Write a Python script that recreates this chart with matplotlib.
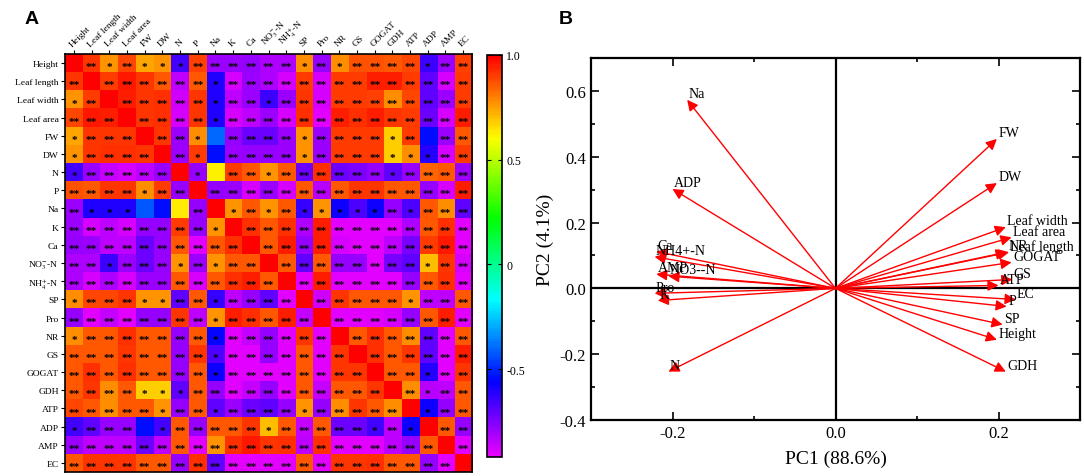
import numpy as np
import matplotlib
matplotlib.use('Agg')
import matplotlib.pyplot as plt
import matplotlib.colors as mcolors
from matplotlib.ticker import MultipleLocator

plt.rcParams['font.family'] = ['Liberation Serif', 'DejaVu Serif']
plt.rcParams['mathtext.fontset'] = 'stix'

# ---- panel A: correlation matrix ----
heat_labels = ['Height', 'Leaf length', 'Leaf width', 'Leaf area', 'FW', 'DW', 'N', 'P',
               'Na', 'K', 'Ca', r'NO$_3^{-}$-N', r'NH$_4^{+}$-N', 'SP', 'Pro', 'NR', 'GS',
               'GOGAT', 'GDH', 'ATP', 'ADP', 'AMP', 'EC']

corr = np.array([
    [1.00, 0.91, 0.77, 0.88, 0.74, 0.76, -0.66, 0.89, -0.80, -0.80, -0.78, -0.82, -0.82, 0.78, -0.78, 0.78, 0.87, 0.87, 0.85, 0.88, -0.65, -0.80, 0.89],
    [0.91, 1.00, 0.90, 0.96, 0.91, 0.85, -0.85, 0.86, -0.60, -0.88, -0.80, -0.82, -0.88, 0.90, -0.88, 0.90, 0.90, 0.94, 0.94, 0.90, -0.70, -0.88, 0.90],
    [0.77, 0.90, 1.00, 0.95, 0.91, 0.92, -0.87, 0.91, -0.60, -0.85, -0.80, -0.65, -0.80, 0.91, -0.88, 0.90, 0.90, 0.89, 0.78, 0.88, -0.70, -0.80, 0.90],
    [0.88, 0.96, 0.95, 1.00, 0.91, 0.92, -0.88, 0.91, -0.60, -0.88, -0.85, -0.80, -0.88, 0.92, -0.90, 0.95, 0.92, 0.95, 0.91, 0.90, -0.72, -0.88, 0.95],
    [0.74, 0.91, 0.91, 0.91, 1.00, 0.91, -0.80, 0.78, -0.40, -0.78, -0.72, -0.72, -0.80, 0.77, -0.80, 0.90, 0.90, 0.90, 0.68, 0.90, -0.54, -0.80, 0.86],
    [0.76, 0.91, 0.92, 0.92, 0.91, 1.00, -0.80, 0.90, -0.54, -0.80, -0.78, -0.78, -0.80, 0.77, -0.80, 0.90, 0.90, 0.90, 0.68, 0.78, -0.62, -0.88, 0.90],
    [-0.66, -0.80, -0.86, -0.88, -0.85, -0.80, 1.00, -0.78, 0.62, 0.90, 0.85, 0.76, 0.86, -0.72, 0.92, -0.72, -0.75, -0.78, -0.70, -0.78, 0.84, 0.85, -0.80],
    [0.87, 0.86, 0.91, 0.91, 0.78, 0.90, -0.78, 1.00, -0.78, -0.80, -0.88, -0.80, -0.88, 0.85, -0.84, 0.86, 0.91, 0.91, 0.85, 0.85, -0.78, -0.88, 0.94],
    [-0.80, -0.60, -0.60, -0.60, -0.42, -0.54, 0.63, -0.78, 1.00, 0.77, 0.85, 0.76, 0.85, -0.64, 0.77, -0.58, -0.68, -0.58, -0.78, -0.68, 0.86, 0.78, -0.70],
    [-0.80, -0.88, -0.85, -0.88, -0.78, -0.78, 0.90, -0.78, 0.77, 1.00, 0.92, 0.86, 0.92, -0.82, 0.95, -0.90, -0.90, -0.90, -0.90, -0.82, 0.86, 0.92, -0.90],
    [-0.78, -0.80, -0.85, -0.85, -0.72, -0.78, 0.86, -0.90, 0.86, 0.92, 1.00, 0.86, 0.95, -0.78, 0.95, -0.88, -0.90, -0.90, -0.85, -0.74, 0.90, 0.96, -0.90],
    [-0.82, -0.82, -0.65, -0.80, -0.72, -0.78, 0.76, -0.80, 0.76, 0.86, 0.86, 1.00, 0.86, -0.70, 0.86, -0.78, -0.78, -0.90, -0.74, -0.70, 0.70, 0.91, -0.88],
    [-0.82, -0.88, -0.82, -0.88, -0.80, -0.80, 0.86, -0.88, 0.86, 0.92, 0.95, 0.86, 1.00, -0.90, 0.94, -0.90, -0.90, -0.90, -0.90, -0.78, 0.86, 0.92, -0.90],
    [0.78, 0.88, 0.88, 0.91, 0.77, 0.77, -0.70, 0.86, -0.64, -0.85, -0.78, -0.70, -0.90, 1.00, -0.87, 0.91, 0.86, 0.86, 0.86, 0.77, -0.85, -0.85, 0.86],
    [-0.78, -0.90, -0.86, -0.90, -0.78, -0.78, 0.91, -0.85, 0.77, 0.95, 0.92, 0.86, 0.95, -0.86, 1.00, -0.90, -0.90, -0.90, -0.88, -0.78, 0.86, 0.95, -0.90],
    [0.78, 0.86, 0.86, 0.92, 0.86, 0.86, -0.78, 0.86, -0.56, -0.90, -0.86, -0.78, -0.90, 0.91, -0.90, 1.00, 0.86, 0.92, 0.86, 0.78, -0.70, -0.90, 0.86],
    [0.86, 0.86, 0.86, 0.91, 0.86, 0.86, -0.78, 0.91, -0.68, -0.90, -0.90, -0.78, -0.90, 0.86, -0.90, 0.91, 1.00, 0.92, 0.86, 0.91, -0.70, -0.90, 0.95],
    [0.86, 0.92, 0.86, 0.92, 0.86, 0.86, -0.78, 0.86, -0.58, -0.90, -0.90, -0.90, -0.90, 0.86, -0.90, 0.91, 0.91, 1.00, 0.86, 0.86, -0.62, -0.90, 0.91],
    [0.86, 0.91, 0.78, 0.86, 0.68, 0.68, -0.70, 0.86, -0.78, -0.90, -0.86, -0.78, -0.90, 0.86, -0.86, 0.86, 0.86, 0.91, 1.00, 0.78, -0.84, -0.85, 0.86],
    [0.88, 0.86, 0.78, 0.86, 0.86, 0.76, -0.78, 0.86, -0.70, -0.80, -0.72, -0.70, -0.78, 0.76, -0.78, 0.78, 0.91, 0.86, 0.78, 1.00, -0.58, -0.78, 0.86],
    [-0.66, -0.70, -0.78, -0.78, -0.54, -0.66, 0.85, -0.78, 0.85, 0.86, 0.91, 0.70, 0.86, -0.86, 0.86, -0.72, -0.72, -0.66, -0.85, -0.58, 1.00, 0.86, -0.78],
    [-0.80, -0.85, -0.85, -0.85, -0.72, -0.85, 0.86, -0.90, 0.77, 0.92, 0.96, 0.91, 0.92, -0.85, 0.92, -0.90, -0.90, -0.90, -0.85, -0.78, 0.86, 1.00, -0.90],
    [0.86, 0.91, 0.91, 0.91, 0.86, 0.86, -0.78, 0.92, -0.70, -0.90, -0.90, -0.90, -0.90, 0.86, -0.90, 0.91, 0.91, 0.92, 0.86, 0.86, -0.78, -0.90, 1.00],
])

# number of asterisks per cell (0 = none)
stars = [
    "02121112222221212222122",
    "20222222122222222222222",
    "12022222122122222222222",
    "22202222122222222222222",
    "12220221022221222212022",
    "12222021022221222211122",
    "12222201022122222212222",
    "22221220222222222222222",
    "21110002012121111121222",
    "22222222102222222222222",
    "22222222220222222222222",
    "22122212122022222222122",
    "22222222222202222222222",
    "12221122122220222221222",
    "22222222122222022222222",
    "12222222122222202222222",
    "22222222122222220222222",
    "22222222122222222022122",
    "22221112222222222202122",
    "22222122122221222220122",
    "12220122222122222121022",
    "22222222222222222222202",
    "22222222222222222222220",
]

# ---- panel B: PCA loadings ----
pca_labels = ['Na', 'ADP', 'Ca', 'NH4+-N', 'AMP', 'NO3--N', 'Pro', 'K', 'N',
              'FW', 'DW', 'Leaf width', 'Leaf area', 'NR', 'Leaf length', 'GOGAT',
              'GS', 'ATP', 'EC', 'P', 'SP', 'Height', 'GDH']
pc1 = [-0.182, -0.200, -0.220, -0.222, -0.220, -0.205, -0.222, -0.218, -0.205,
       0.198, 0.198, 0.209, 0.216, 0.210, 0.213, 0.216,
       0.217, 0.200, 0.221, 0.210, 0.205, 0.198, 0.209]
pc2 = [0.573, 0.302, 0.112, 0.096, 0.043, 0.037, -0.015, -0.037, -0.253,
       0.454, 0.320, 0.186, 0.155, 0.110, 0.110, 0.079,
       0.027, 0.009, -0.034, -0.055, -0.110, -0.156, -0.253]

W, H = 1084, 477
fig = plt.figure(figsize=(W / 100, H / 100), dpi=100)

def px_axes(x0, y0, x1, y1):
    return fig.add_axes([x0 / W, 1 - y1 / H, (x1 - x0) / W, (y1 - y0) / H])

# colormap: magenta -> blue -> cyan -> green -> yellow -> red
cmap = mcolors.ListedColormap(plt.get_cmap('hsv')(np.linspace(5 / 6, 0, 256)))
vmin, vmax = -0.92, 1.0

ax1 = px_axes(65, 55, 472, 473)
im = ax1.imshow(corr, cmap=cmap, vmin=vmin, vmax=vmax, aspect='auto', interpolation='nearest')
n = len(heat_labels)
for i in range(n):
    for j in range(n):
        k = int(stars[i][j])
        if k:
            ax1.text(j, i + 0.2, '*' * k, ha='center', va='center', fontsize=8,
                     fontweight='bold', color='black')
ax1.set_xticks(range(n))
ax1.set_yticks(range(n))
ax1.set_yticklabels(heat_labels, fontsize=6.8)
ax1.xaxis.tick_top()
ax1.set_xticklabels(heat_labels, fontsize=6.8, rotation=45, ha='left', va='bottom',
                    rotation_mode='anchor')
ax1.tick_params(length=3, width=0.8, pad=1.5)
for s in ax1.spines.values():
    s.set_linewidth(1.2)

cax = px_axes(487, 56, 502, 458)
cb = fig.colorbar(im, cax=cax, ticks=[1.0, 0.5, 0, -0.5])
cb.ax.set_yticklabels(['1.0', '0.5', '0', '-0.5'], fontsize=8.5)
cb.ax.tick_params(direction='in', length=3, width=0.8, left=True, right=True, pad=3)
cb.outline.set_linewidth(1.2)

# ---- biplot ----
ax2 = px_axes(591, 59, 1080, 421)
ax2.set_xlim(-0.3, 0.3)
ax2.set_ylim(-0.4, 0.7)
ax2.axhline(0, color='black', lw=1.6, zorder=1)
ax2.axvline(0, color='black', lw=1.6, zorder=1)
for name, x, y in zip(pca_labels, pc1, pc2):
    ax2.annotate('', xy=(x, y), xytext=(0, 0),
                 arrowprops=dict(arrowstyle='-|>', color='red', lw=1,
                                 shrinkA=0, shrinkB=0, mutation_scale=16))
    ax2.annotate(name, xy=(x, y), xytext=(1, 4.5), textcoords='offset points',
                 ha='left', va='center', fontsize=10)

ax2.xaxis.set_major_locator(MultipleLocator(0.2))
ax2.xaxis.set_minor_locator(MultipleLocator(0.1))
ax2.yaxis.set_major_locator(MultipleLocator(0.2))
ax2.yaxis.set_minor_locator(MultipleLocator(0.1))
ax2.xaxis.set_major_formatter(plt.FuncFormatter(lambda v, p: f'{v:.1f}'))
ax2.yaxis.set_major_formatter(plt.FuncFormatter(lambda v, p: f'{v:.1f}'))
ax2.tick_params(which='both', direction='in', top=True, right=True, width=1.2, labelsize=12)
ax2.tick_params(which='major', length=6)
ax2.tick_params(which='minor', length=3)
for s in ax2.spines.values():
    s.set_linewidth(1.6)
ax2.set_xlabel('PC1 (88.6%)', fontsize=14, labelpad=6)
ax2.set_ylabel('PC2 (4.1%)', fontsize=14, labelpad=4)

fig.text(32 / W, 1 - 20 / H, 'A', fontsize=14, fontweight='bold', family='Liberation Sans',
         ha='center', va='center')
fig.text(566 / W, 1 - 20 / H, 'B', fontsize=14, fontweight='bold', family='Liberation Sans',
         ha='center', va='center')

fig.savefig('out.png', dpi=100)
